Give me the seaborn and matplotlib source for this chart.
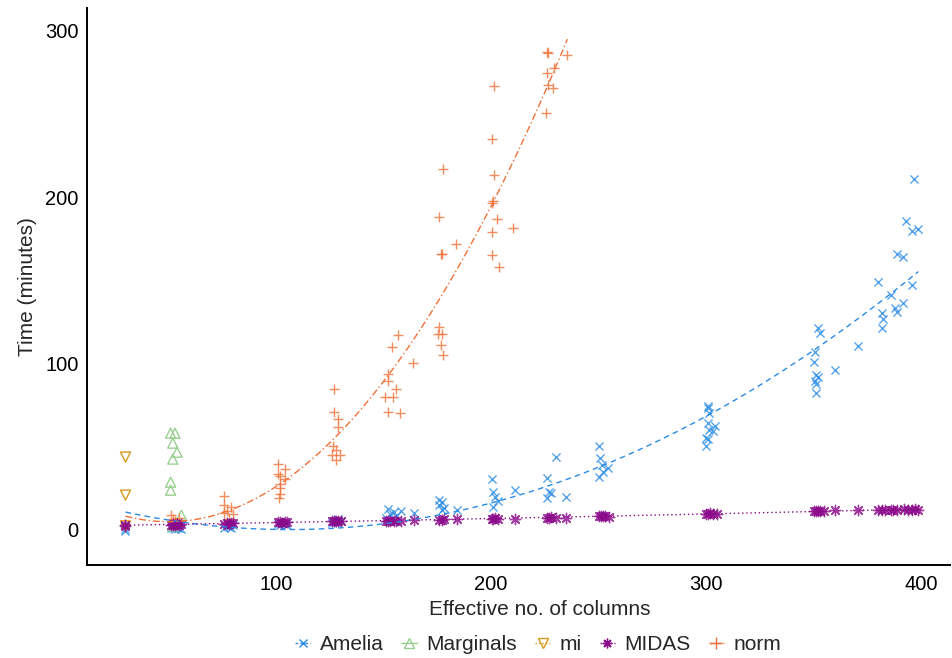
import seaborn as sns
from matplotlib import pyplot as plt
from matplotlib.lines import Line2D

# values (x = effective no. of columns, y = minutes)
amelia_x = [30, 30, 51, 52, 53, 54, 55, 56, 52, 54, 76, 77, 78, 79, 80,
            101, 102, 103, 104, 105, 126, 127, 128, 129, 130,
            152, 153, 155, 158, 164, 151, 156, 176, 177, 176, 177, 184, 178,
            200.5, 201, 202, 203, 201, 211, 226, 227, 228, 226, 230, 235,
            250, 250.5, 251.5, 252, 254.6, 250,
            301, 301, 301.5, 301, 304, 301.5, 303, 300, 301, 300,
            352, 353, 350.7, 350, 351, 352, 350.5, 351, 351, 360, 370.8,
            379.8, 381.7, 382.5, 381.7, 385.9, 387.9, 388.7, 388.7, 391.8,
            391.8, 392.9, 395.7, 395.7, 396.7, 398.7]
amelia_y = [-1, 0, 0.5, 1, 0, 1.5, 0.5, 0, 2, 1, 1, 2, 1.5, 0.5, 2.5,
            3, 2.5, 3.5, 3, 2.5, 4, 5, 4.5, 6, 5,
            12, 9.4, 10.4, 10.8, 9.8, 7, 8, 17.5, 16.5, 14.5, 11.4, 11.4, 13,
            30, 22.5, 19.5, 17, 13.4, 23.5, 31, 22.5, 22, 18.5, 43.6, 19.5,
            50, 42.6, 38.6, 34.5, 36.6, 31.5,
            74, 73, 69.7, 64, 62, 59.6, 59, 55, 54.6, 50,
            121.3, 118, 106.4, 100.4, 92.8, 91.8, 89.4, 87.3, 82.1, 95.8, 110.5,
            149, 129.9, 126.3, 121.3, 141, 133.3, 130.5, 165.7, 163.7,
            136.5, 185.5, 179.5, 146.8, 210.7, 180.7]

norm_x = [30, 30, 51, 52, 53, 54, 52, 55, 76, 76, 79, 76, 80, 77, 78,
          101, 104, 101, 102, 104, 102, 102, 102, 101.5,
          127, 127, 129, 128.7, 126.7, 128, 129.8, 126, 128,
          151.9, 151.9, 155.8, 150.7, 154.6, 151.9, 157.7, 156.9, 153.8, 163.9,
          175.8, 177, 175.5, 176.7, 177.8, 177.8, 175.8, 176.6, 177, 183.6,
          201.5, 200.5, 201.5, 201, 200.5, 202.6, 210.4, 200.5, 200.5, 203.7,
          226.2, 226.7, 235.5, 229.3, 226.2, 226.7, 228.7, 225.6]
norm_y = [2, 3, 8.4, 6.4, 5, 3.5, 4, 7, 19.9, 14.5, 13.1, 9.5, 9, 11, 6,
          39, 36, 33, 32, 30.5, 27.5, 24.5, 21, 18.5,
          84.2, 70.3, 66.1, 61.6, 50, 47.6, 44.6, 44.6, 41.6,
          93.4, 89.2, 84.2, 79.3, 79.7, 70.7, 69.7, 116.9, 109.8, 99.8,
          121.9, 117.5, 117.5, 111.2, 104.8, 216.9, 188.2, 165.7, 166, 171.7,
          266.9, 234.7, 213.3, 197.8, 196.2, 186.6, 181.5, 179.1, 165, 157.6,
          287.5, 287, 285.5, 278, 274.5, 267.5, 265.4, 250.4]

midas_x = [30, 30, 51, 52, 53, 54, 55, 56, 52, 54, 76, 77, 78, 79, 80,
           101, 102, 103, 104, 105, 126, 127, 128, 129, 130,
           151, 152, 153, 155, 156, 158, 164, 176, 177, 178, 184,
           200.5, 201, 202, 203, 211, 226, 227, 228, 230, 235,
           250, 251, 252, 253, 255, 300, 301, 302, 303, 305,
           350, 351, 352, 353, 355, 360, 370.7,
           380, 381.7, 383, 386, 387, 389, 392, 394, 395.7, 397, 398.6]
midas_y = [2.4, 2.0, 2.5, 3.0, 2.7, 3.2, 2.8, 3.0, 2.6, 3.4, 3.4, 3.6, 3.3, 3.7, 3.5,
           4.2, 4.4, 4.0, 4.5, 4.3, 5.0, 4.8, 5.2, 5.0, 4.9,
           5.0, 5.1, 5.0, 5.2, 4.9, 5.1, 5.4, 5.8, 5.7, 6.0, 6.0,
           6.4, 6.3, 6.5, 6.4, 6.4, 7.0, 6.9, 7.1, 7.0, 7.0,
           7.8, 7.7, 7.9, 7.8, 7.6, 9.4, 9.3, 9.5, 9.2, 9.4,
           11.0, 10.8, 11.1, 10.9, 11.0, 11.8, 11.8,
           11.4, 11.6, 11.3, 11.4, 11.6, 11.7, 12.2, 11.8, 11.8, 12.0, 11.8]

marg_x = [51, 53, 52, 54, 52, 51, 51, 56, 52, 53]
marg_y = [57.8, 57.8, 51.8, 46.4, 42.2, 28.3, 23.5, 8.4, 2, 3]

mi_x = [30, 30, 30]
mi_y = [43.4, 20.5, 2]

x_ticks = [100, 200, 300, 400]
y_ticks = [0, 100, 200, 300]

sns.set_style("white")
plt.rcParams['font.family'] = ['Liberation Sans', 'DejaVu Sans']

fig, ax = plt.subplots(figsize=(9.53, 6.58), dpi=100)
fig.subplots_adjust(left=0.0913, right=0.997, top=0.988, bottom=0.141)

c_amelia = '#2b8be6'
c_marg = '#98d08f'
c_mi = '#d89a1c'
c_midas = '#8b0a8b'
c_norm = '#f07138'
star = (8, 2, 0)

sns.scatterplot(x=amelia_x, y=amelia_y, ax=ax, marker='x', color=c_amelia,
                s=34, linewidth=1.0, alpha=0.8)
sns.scatterplot(x=marg_x, y=marg_y, ax=ax, marker='^', facecolor='none',
                edgecolor=c_marg, s=52, linewidth=1.0)
sns.scatterplot(x=mi_x, y=mi_y, ax=ax, marker='v', facecolor='none',
                edgecolor=c_mi, s=52, linewidth=1.0)
sns.scatterplot(x=norm_x, y=norm_y, ax=ax, marker='+', color=c_norm,
                s=62, linewidth=1.0, alpha=0.8)
sns.scatterplot(x=midas_x, y=midas_y, ax=ax, marker=star, color=c_midas,
                s=55, linewidth=1.0, alpha=0.8)

# quadratic fits, as in the reference
sns.regplot(x=amelia_x, y=amelia_y, ax=ax, order=2, ci=None, scatter=False,
            line_kws=dict(color=c_amelia, lw=1.0, ls=(0, (4, 3))))
sns.regplot(x=norm_x, y=norm_y, ax=ax, order=2, ci=None, scatter=False,
            line_kws=dict(color=c_norm, lw=1.0, ls=(0, (5, 2, 1, 2))))
sns.regplot(x=midas_x, y=midas_y, ax=ax, order=2, ci=None, scatter=False,
            line_kws=dict(color=c_midas, lw=1.0, ls=(0, (1, 2))))

ax.set_xlim(12.1, 413.5)
ax.set_ylim(-21.7, 313.9)
ax.set_xticks(x_ticks)
ax.set_yticks(y_ticks)
ax.tick_params(length=0, labelsize=14.5, colors='black')
ax.tick_params(axis='x', pad=7)
ax.tick_params(axis='y', pad=6)
for side in ['top', 'right']:
    ax.spines[side].set_visible(False)
for side in ['left', 'bottom']:
    ax.spines[side].set_color('black')
    ax.spines[side].set_linewidth(1.4)

ax.set_xlabel('Effective no. of columns', fontsize=15, labelpad=6)
ax.xaxis.set_label_coords(0.524, -0.063)
ax.set_ylabel('Time (minutes)', fontsize=15, labelpad=6)

handles = [
    Line2D([], [], color=c_amelia, marker='x', ls=(0, (2, 1.5)), lw=1, ms=6),
    Line2D([], [], color=c_marg, marker='^', mfc='none', ls='-', lw=1, ms=7),
    Line2D([], [], color=c_mi, marker='v', mfc='none', ls=(0, (1, 1.5)), lw=1, ms=7),
    Line2D([], [], color=c_midas, marker=star, ls=(0, (1, 1.5)), lw=1, ms=7),
    Line2D([], [], color=c_norm, marker='+', ls=(0, (2, 1, 1, 1)), lw=1, ms=8),
]
labels = ['Amelia', 'Marginals', 'mi', 'MIDAS', 'norm']
fig.legend(handles, labels, loc='center', bbox_to_anchor=(0.5646, 0.02), ncol=5,
           frameon=False, fontsize=15, handlelength=0.75, handletextpad=0.45,
           columnspacing=0.85, borderaxespad=0)

fig.savefig('out.png', dpi=100)
